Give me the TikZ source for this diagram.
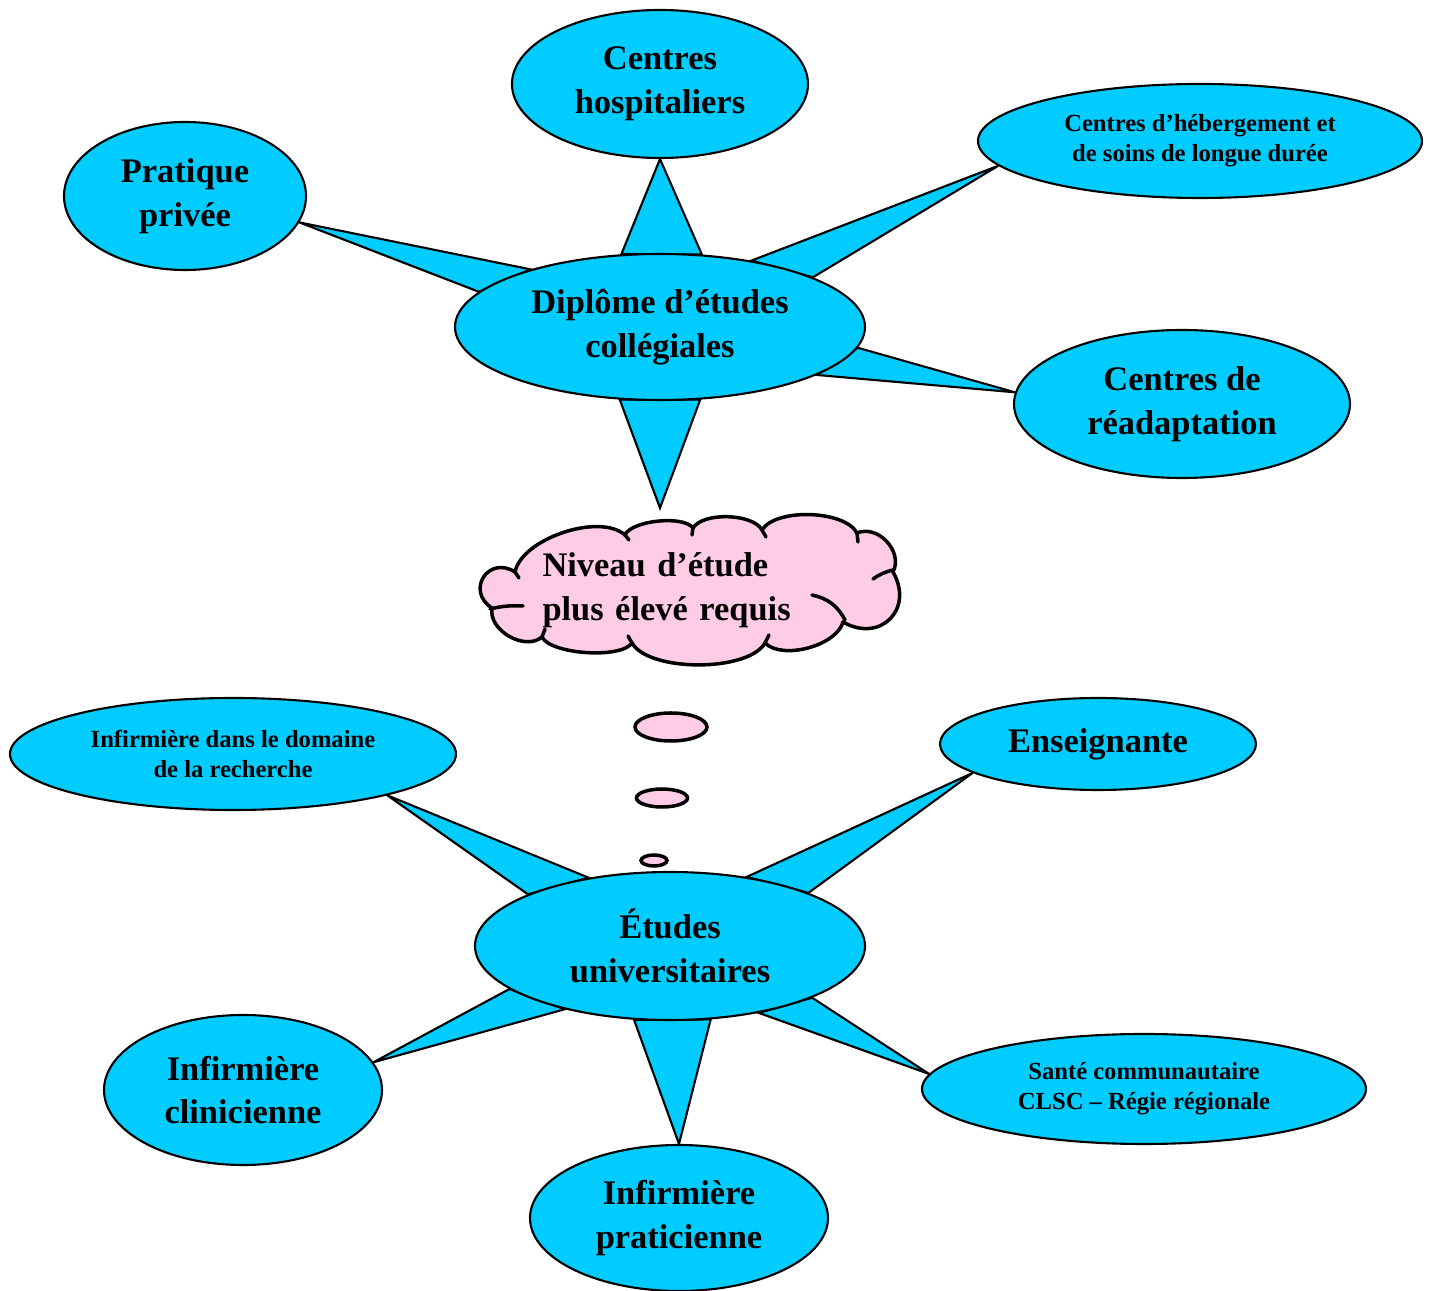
\documentclass[tikz,border=0pt]{standalone}
\usepackage{fontspec}
\setmainfont{Liberation Serif}
\usetikzlibrary{shapes.geometric, backgrounds}
\definecolor{bubblecyan}{RGB}{0, 204, 255}
\definecolor{cloudpink}{RGB}{255, 204, 229}
\newcommand{\bigtxt}{\fontsize{9.8}{12.4}\selectfont\bfseries}
\newcommand{\smalltxt}{\fontsize{7}{8.6}\selectfont\bfseries}

\begin{document}
\begin{tikzpicture}[
    bubble/.style={ellipse, draw=black, line width=0.6pt, fill=bubblecyan, inner sep=0pt, align=center, font=\bigtxt},
    spike/.style={fill=bubblecyan, draw=black, line width=0.6pt, line join=miter},
    cloudline/.style={draw=black, line width=1pt, line cap=round, line join=round},
    dot/.style={draw=black, line width=1pt, fill=cloudpink}
]
    \useasboundingbox (0,0) rectangle (14.31,-12.91);

    % Top star
    \node[bubble, minimum width=4.1cm, minimum height=1.46cm] (dec) at (6.60,-3.27) {Diplôme d’études\\collégiales};
    \node[bubble, minimum width=2.96cm, minimum height=1.48cm] (hosp) at (6.60,-0.84) {Centres\\hospitaliers};
    \node[bubble, minimum width=2.42cm, minimum height=1.48cm] (prat) at (1.85,-1.96) {Pratique\\privée};
    \node[bubble, minimum width=4.44cm, minimum height=1.14cm, font=\smalltxt] (chsld) at (12.00,-1.41) {Centres d’hébergement et\\de soins de longue durée};
    \node[bubble, minimum width=3.36cm, minimum height=1.48cm] (readapt) at (11.82,-4.04) {Centres de\\réadaptation};

    % Cloud outline
    \path[cloudline, fill=cloudpink] (5.15,-5.72)
        to[bend left=60, looseness=0.75] (6.25,-5.35)
        to[bend left=60, looseness=0.6] (6.93,-5.28)
        to[bend left=60, looseness=0.7] (7.62,-5.30)
        to[bend left=60, looseness=0.7] (8.57,-5.33)
        to[bend left=70, looseness=1.1] (8.93,-5.72)
        to[bend left=75, looseness=1.55] (8.43,-6.22)
        to[bend left=60, looseness=0.78] (7.65,-6.43)
        to[bend left=60, looseness=0.65] (6.32,-6.43)
        to[bend left=60, looseness=0.55] (5.42,-6.37)
        to[bend left=70, looseness=1.0] (4.92,-6.08)
        to[bend left=90, looseness=1.9] (5.15,-5.72) -- cycle;
    % Cloud curls
    \draw[cloudline] (5.15,-5.72) -- (5.19,-5.78);
    \draw[cloudline] (4.90,-6.09) to[bend left=8] (5.23,-6.06);
    \draw[cloudline] (5.42,-6.37) -- (5.45,-6.29);
    \draw[cloudline] (6.32,-6.43) -- (6.28,-6.36);
    \draw[cloudline] (7.65,-6.43) -- (7.69,-6.35);
    \draw[cloudline] (8.12,-5.95) to[bend left=25] (8.45,-6.20);
    \draw[cloudline] (8.73,-5.79) to[bend left=10] (8.93,-5.70);
    \draw[cloudline] (8.57,-5.33) -- (8.58,-5.42);
    \draw[cloudline] (7.62,-5.30) -- (7.66,-5.37);
    \draw[cloudline] (6.93,-5.28) -- (6.92,-5.35);
    \draw[cloudline] (6.25,-5.35) -- (6.29,-5.40);

    % Cloud text and thought dots
    \node[font=\bigtxt, text width=2.91cm, align=left, inner sep=0pt] (cloud) at (6.88,-5.90) {Niveau d’étude\\plus élevé requis};
    \coordinate (cloudtop) at (6.60,-5.08);
    \draw[dot] (6.71,-7.27) ellipse (0.36 and 0.14);
    \draw[dot] (6.62,-7.98) ellipse (0.255 and 0.09);
    \draw[dot] (6.54,-8.605) ellipse (0.13 and 0.055);

    % Bottom star
    \node[bubble, minimum width=3.9cm, minimum height=1.48cm] (etudes) at (6.70,-9.46) {Études\\universitaires};
    \node[bubble, minimum width=4.46cm, minimum height=1.12cm, font=\smalltxt] (recherche) at (2.33,-7.54) {Infirmière dans le domaine\\de la recherche};
    \node[bubble, minimum width=3.16cm, minimum height=0.92cm] (enseign) at (10.98,-7.44) {Enseignante};
    \node[bubble, minimum width=2.78cm, minimum height=1.5cm] (clin) at (2.43,-10.90) {Infirmière\\clinicienne};
    \node[bubble, minimum width=4.44cm, minimum height=1.1cm, font=\smalltxt] (sante) at (11.44,-10.89) {Santé communautaire\\CLSC – Régie régionale};
    \node[bubble, minimum width=2.98cm, minimum height=1.46cm] (pratic) at (6.79,-12.18) {Infirmière\\praticienne};

    % Spikes
    \begin{scope}[on background layer]
        \draw[spike] (dec.118) -- (hosp.south) -- (dec.60) -- cycle;
        \draw[spike] (dec.36) -- (chsld.187) -- (dec.18) -- cycle;
        \draw[spike] (dec.-6) -- (readapt.176) -- (dec.-17) -- cycle;
        \draw[spike] (dec.-119) -- (dec.south |- cloudtop) -- (dec.-61) -- cycle;
        \draw[spike] (dec.156) -- (prat.347) -- (dec.169) -- cycle;

        \draw[spike] (etudes.140) -- (recherche.345) -- (etudes.160) -- cycle;
        \draw[spike] (etudes.42) -- (enseign.193) -- (etudes.21) -- cycle;
        \draw[spike] (etudes.195) -- (clin.12) -- (etudes.211) -- cycle;
        \draw[spike] (etudes.244) -- (pratic.north) -- (etudes.299) -- cycle;
        \draw[spike] (etudes.340) -- (sante.176) -- (etudes.323) -- cycle;
    \end{scope}
\end{tikzpicture}
\end{document}
